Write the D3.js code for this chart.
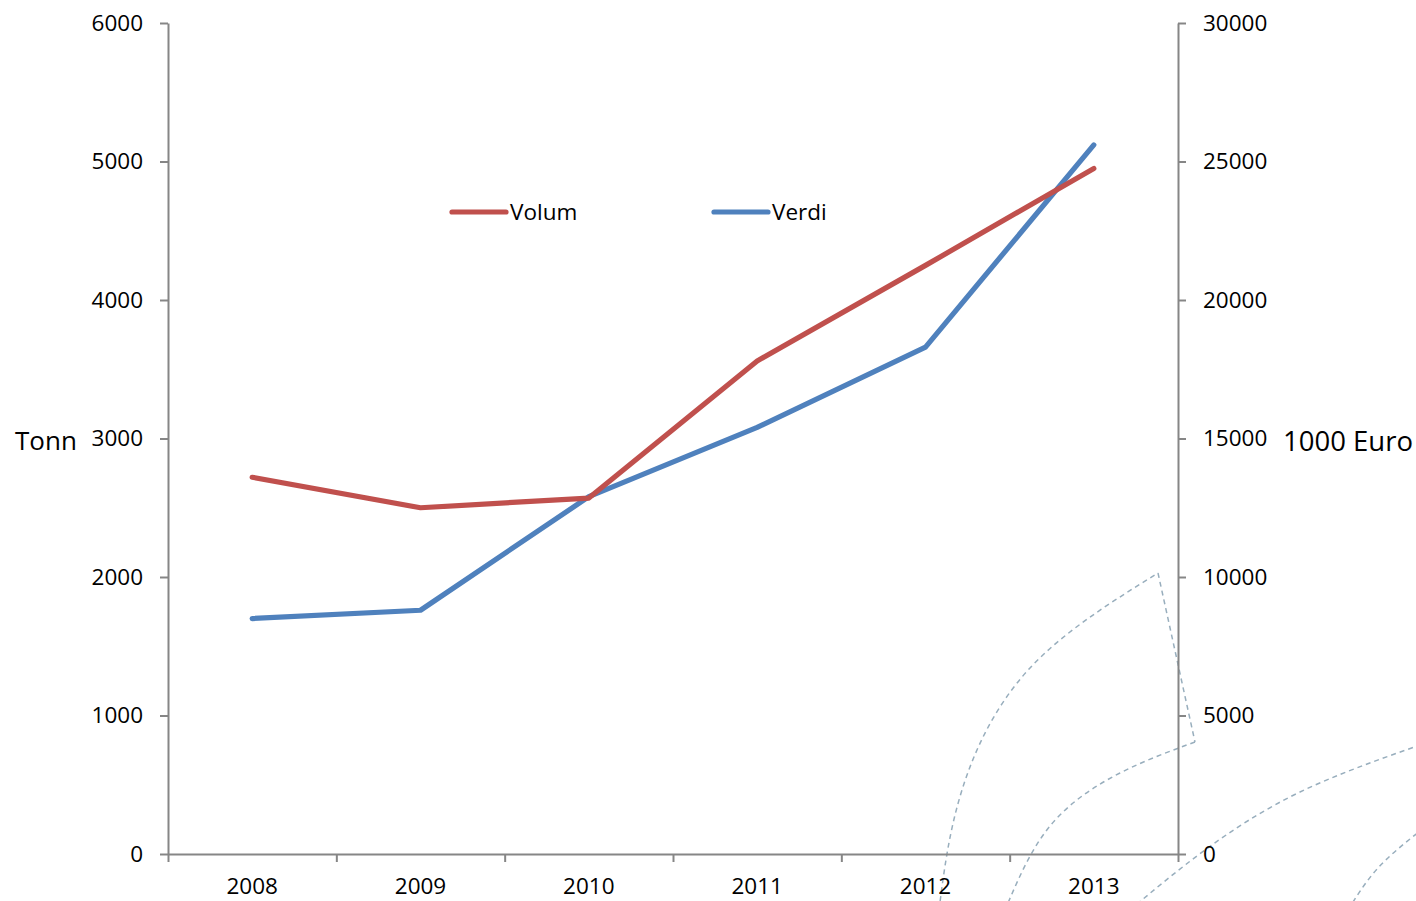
<!DOCTYPE html>
<html>
<head>
<meta charset="utf-8">
<script src="https://cdn.jsdelivr.net/npm/d3@7"></script>
<style>
  html, body { margin: 0; padding: 0; background: #fff; }
  svg { display: block; }
  text { font-family: "Open Sans", "Noto Sans", sans-serif; fill: #000; }
</style>
</head>
<body>
<svg id="chart" width="1416" height="901"></svg>
<script>
// ---- data ----
const years = ["2008", "2009", "2010", "2011", "2012", "2013"];
const volum = [2720, 2500, 2570, 3560, 4250, 4950];        // Tonn (left axis)
const verdi = [8500, 8800, 12900, 15400, 18300, 25600];     // 1000 Euro (right axis)
const leftTicks = [0, 1000, 2000, 3000, 4000, 5000, 6000];
const rightTicks = [0, 5000, 10000, 15000, 20000, 25000, 30000];
const seriesNames = ["Volum", "Verdi"];
const axisTitles = ["Tonn", "1000 Euro"];

// ---- layout ----
const W = 1416, H = 901;
const L = 168, R = 1178, T = 23, B = 854;
const axisColor = "#868686";
const colors = { Volum: "#C0504D", Verdi: "#4F81BD" };

const svg = d3.select("#chart");

const x = d3.scaleBand().domain(years).range([L, R]).padding(0);
const xb = d3.scaleLinear().domain([0, years.length]).range([L, R]);
const yL = d3.scaleLinear().domain([0, 6000]).range([B, T]);
const yR = d3.scaleLinear().domain([0, 30000]).range([B, T]);

// ---- decorative dashed background arcs (not data) ----
const deco = svg.append("g")
  .attr("fill", "none")
  .attr("stroke", "#98aebd")
  .attr("stroke-width", 1.5)
  .attr("stroke-dasharray", "5,4");
const decoCurves = [
  [[939,910],[962,790],[1030,668],[1158,573]],
  [[1158,573],[1195,742]],
  [[1195,742],[1120,773],[1050,826],[1005,910]],
  [[1130,910],[1205,850],[1300,792],[1420,745]],
  [[1348,910],[1378,868],[1420,831]]
];
const decoLine = d3.line().curve(d3.curveNatural);
decoCurves.forEach(pts => {
  deco.append("path").attr("d", pts.length > 2 ? decoLine(pts) : d3.line()(pts));
});

// ---- axes ----
function styleAxis(g) {
  g.selectAll("path.domain").attr("stroke", axisColor).attr("stroke-width", 2);
  g.selectAll(".tick line").attr("stroke", axisColor).attr("stroke-width", 2);
  g.selectAll(".tick text").attr("font-size", "22.5px").attr("font-family", '"Open Sans", sans-serif').attr("fill", "#000");
}

svg.append("g")
  .attr("transform", `translate(${L},0)`)
  .call(d3.axisLeft(yL).tickValues(leftTicks).tickSize(8).tickSizeOuter(0).tickPadding(17).tickFormat(d3.format("d")))
  .call(styleAxis);

svg.append("g")
  .attr("transform", `translate(${R},0)`)
  .call(d3.axisRight(yR).tickValues(rightTicks).tickSize(8).tickSizeOuter(0).tickPadding(17).tickFormat(d3.format("d")))
  .call(styleAxis);

// x axis: tick marks at band boundaries
svg.append("g")
  .attr("transform", `translate(0,${B})`)
  .call(d3.axisBottom(xb).ticks(years.length).tickSize(8).tickSizeOuter(0).tickFormat(""))
  .call(styleAxis);

// x labels at band centers
svg.append("g")
  .attr("transform", `translate(0,${B})`)
  .call(d3.axisBottom(x).tickSize(0).tickPadding(24))
  .call(g => g.select("path.domain").remove())
  .call(styleAxis);

// axis titles
svg.append("text").attr("x", 15).attr("y", 441).attr("dy", "0.35em")
  .attr("font-size", "26px").text(axisTitles[0]);
svg.append("text").attr("x", 1283).attr("y", 441).attr("dy", "0.35em")
  .attr("font-size", "27.5px").text(axisTitles[1]);

// ---- lines ----
const cx = d => x(d) + x.bandwidth() / 2;
const lineL = d3.line().x((d, i) => cx(years[i])).y(d => yL(d));
const lineR = d3.line().x((d, i) => cx(years[i])).y(d => yR(d));

svg.append("path").datum(verdi)
  .attr("d", lineR)
  .attr("fill", "none").attr("stroke", colors.Verdi)
  .attr("stroke-width", 5.2).attr("stroke-linecap", "round").attr("stroke-linejoin", "round");

svg.append("path").datum(volum)
  .attr("d", lineL)
  .attr("fill", "none").attr("stroke", colors.Volum)
  .attr("stroke-width", 5.2).attr("stroke-linecap", "round").attr("stroke-linejoin", "round");

// ---- legend ----
const legendX = [452, 714];
const legendY = 212;
seriesNames.forEach((name, i) => {
  const g = svg.append("g").attr("transform", `translate(${legendX[i]},${legendY})`);
  g.append("line").attr("x1", 0).attr("x2", 54).attr("y1", 0).attr("y2", 0)
    .attr("stroke", colors[name]).attr("stroke-width", 5.2).attr("stroke-linecap", "round");
  g.append("text").attr("x", 58).attr("y", 0).attr("dy", "0.35em")
    .attr("font-size", "22.5px").text(name);
});
</script>
</body>
</html>
